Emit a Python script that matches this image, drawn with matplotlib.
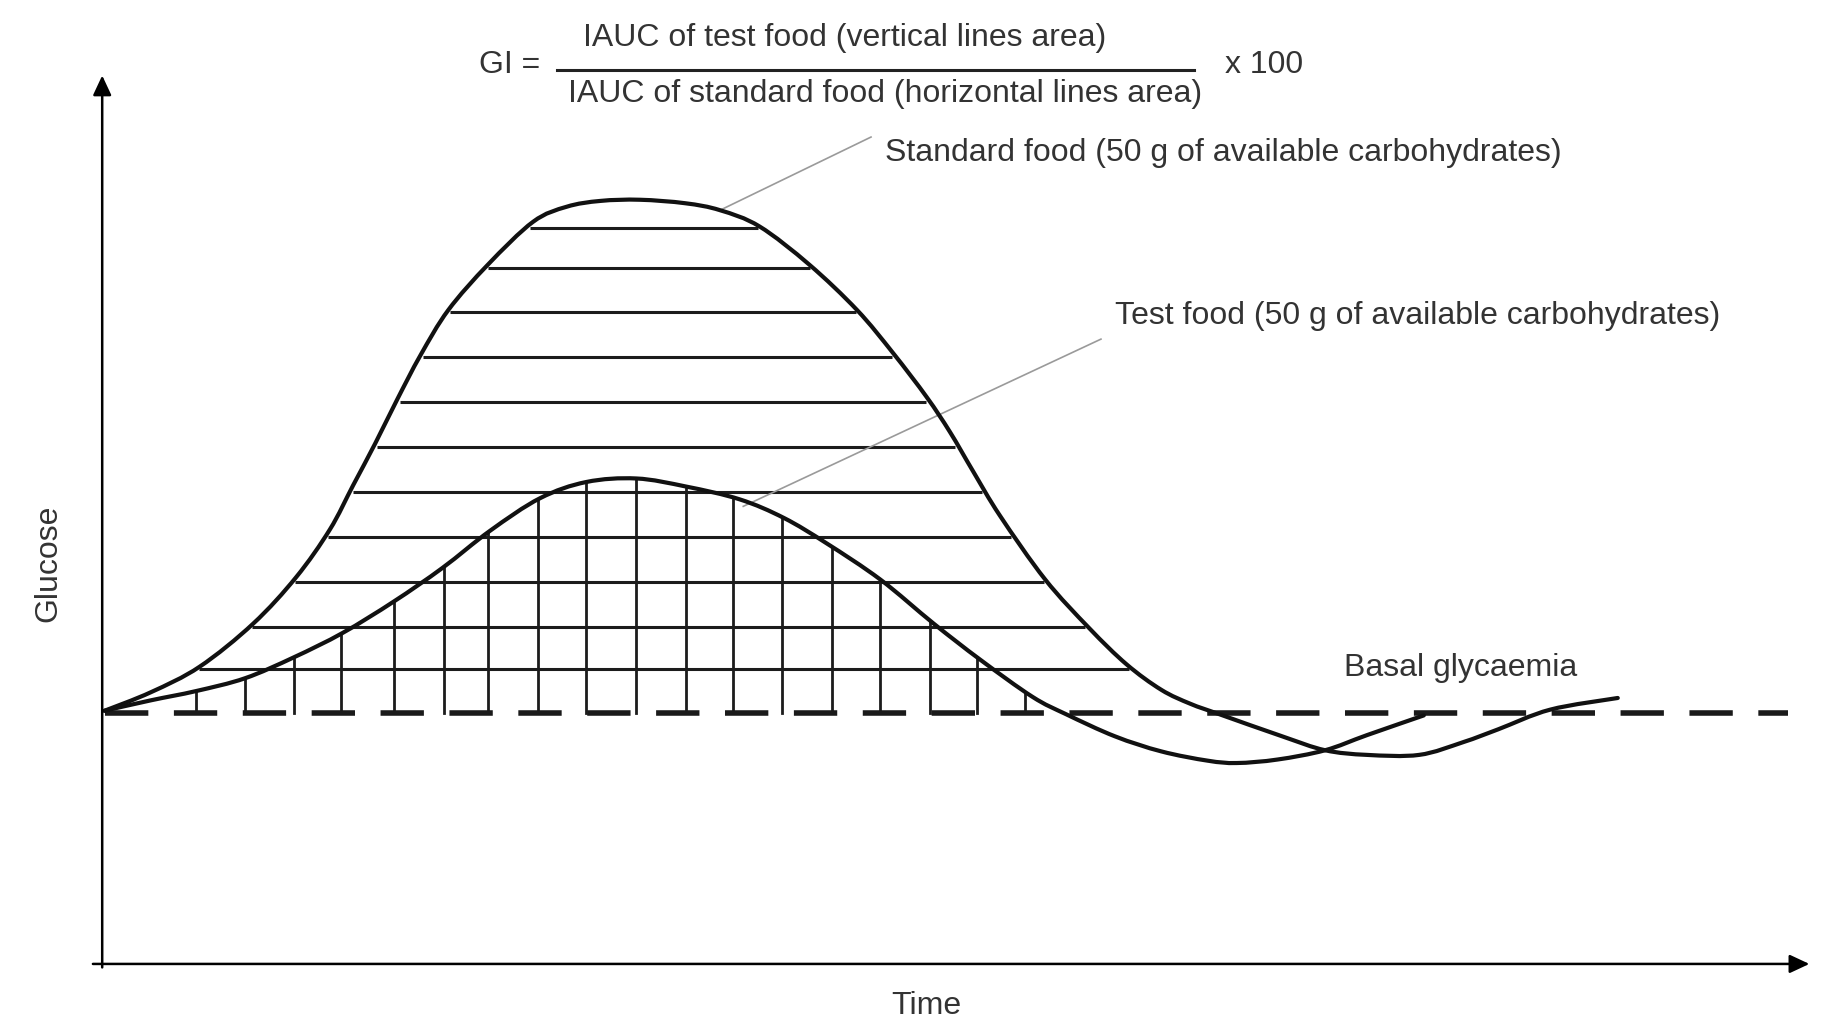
import numpy as np
import matplotlib.pyplot as plt
from matplotlib.patches import FancyArrowPatch, PathPatch
from matplotlib.path import Path

plt.rcParams['font.family'] = ['Liberation Sans', 'DejaVu Sans']

# glycaemic response curves (schematic units: time, glucose)
std_t = [0.2, 4.2, 8.4, 13.0, 16.7, 19.6, 21.6, 23.5, 25.4, 27.4, 29.8, 33.2, 37.1,
         40.0, 42.9, 46.3, 50.2, 53.2, 56.6, 60.9, 65.0, 68.1, 71.0, 73.0, 75.0, 77.3,
         81.2, 85.0, 88.2, 91.2, 93.7, 96.2, 101.6, 105.3, 108.9, 113.4, 117.2,
         120.2, 124.7, 130.5]
std_g = [21.8, 23.4, 25.6, 29.3, 33.3, 37.4, 41.2, 44.8, 48.6, 52.4, 56.3, 60.2, 63.9,
         65.2, 65.7, 65.8, 65.5, 64.9, 63.5, 60.2, 56.3, 52.6, 48.8, 45.8, 42.4, 38.6,
         33.1, 28.9, 25.8, 23.6, 22.4, 21.5, 19.6, 18.4, 18.0, 18.0, 19.1,
         20.2, 21.9, 22.9]

test_t = [0.2, 4.2, 8.1, 12.3, 16.5, 20.7, 25.1, 29.3, 33.4, 37.7, 41.7, 46.0, 50.3,
          54.9, 58.7, 62.4, 67.0, 71.6, 75.6, 80.1, 83.0, 87.2, 91.2, 95.2, 97.7,
          101.2, 105.3, 108.9, 113.8]
test_g = [21.8, 22.7, 23.5, 24.6, 26.4, 28.5, 31.2, 34.1, 37.3, 40.1, 41.5, 41.8, 41.1,
          40.0, 38.4, 36.2, 33.1, 29.3, 26.2, 23.0, 21.5, 19.6, 18.3, 17.5, 17.3,
          17.6, 18.4, 19.7, 21.4]

basal = 21.6
hatch_levels = [63.4, 59.9, 56.1, 52.3, 48.4, 44.5, 40.6, 36.8, 32.9, 29.0, 25.4]
vline_times = [8.1, 12.3, 16.5, 20.6, 25.1, 29.4, 33.2, 37.5, 41.7, 46.0, 50.3, 54.3,
               58.5, 62.8, 67.0, 71.3, 75.3, 79.5]


def smooth_path(xs, ys):
    # Catmull-Rom through the read points, drawn as cubic Bezier segments
    p = np.column_stack([xs, ys]).astype(float)
    verts = [p[0]]
    codes = [Path.MOVETO]
    n = len(p)
    for i in range(n - 1):
        p0 = p[i - 1] if i > 0 else p[i]
        p1, p2 = p[i], p[i + 1]
        p3 = p[i + 2] if i + 2 < n else p[i + 1]
        verts += [p1 + (p2 - p0) / 6, p2 - (p3 - p1) / 6, p2]
        codes += [Path.CURVE4] * 3
    return Path(verts, codes)


fig = plt.figure(figsize=(18.21, 10.22), dpi=100)
ax = fig.add_axes([0, 0, 1, 1])
ax.set_xlim(-8.8, 148.0)
ax.set_ylim(-5.0, 83.0)
ax.axis('off')

ink = '#111111'
txt = '#333333'

# horizontal lines inside the standard food area
st = np.array(std_t)
sg = np.array(std_g)
ipk = int(np.argmax(sg))
iend = int(np.searchsorted(st, 96.2)) + 1
for lev in hatch_levels:
    left = np.interp(lev, sg[:ipk + 1], st[:ipk + 1])
    right = np.interp(lev, sg[ipk:iend][::-1], st[ipk:iend][::-1])
    ax.plot([left + 0.3, right - 0.3], [lev, lev], color='#1c1c1c', lw=2.2,
            solid_capstyle='butt', zorder=1)

# vertical lines inside the test food area
for t in vline_times:
    top = np.interp(t, test_t, test_g)
    ax.plot([t, t], [basal, top], color='#1c1c1c', lw=2.0, zorder=1)

# basal glycaemia
ax.plot([0.2, 145.2], [basal, basal], color='#1a1a1a', lw=4.0,
        dashes=(7.8, 4.6), dash_capstyle='butt', zorder=2)

for xs, ys in [(std_t, std_g), (test_t, test_g)]:
    ax.add_patch(PathPatch(smooth_path(xs, ys), facecolor='none', edgecolor=ink,
                           lw=3.0, joinstyle='round', capstyle='round', zorder=3))

# axes with arrows
for start, end in [((0, -0.3), (0, 76.5)), ((-0.8, 0), (147.0, 0))]:
    ar = FancyArrowPatch(start, end, arrowstyle='-|>,head_length=0.6,head_width=0.28',
                         mutation_scale=20, lw=1.8, color='black',
                         shrinkA=0, shrinkB=0, zorder=4)
    ax.add_patch(ar)

# leader lines
ax.plot([53.2, 66.2], [64.9, 71.2], color='#9a9a9a', lw=1.2, zorder=2)
ax.plot([55.2, 86.0], [39.4, 53.8], color='#9a9a9a', lw=1.2, zorder=2)

fs = 23
ax.text(67.4, 69.8, 'Standard food (50 g of available carbohydrates)', fontsize=fs,
        color=txt, ha='left', va='center')
ax.text(87.2, 55.8, 'Test food (50 g of available carbohydrates)', fontsize=fs,
        color=txt, ha='left', va='center')
ax.text(106.9, 25.5, 'Basal glycaemia', fontsize=fs, color=txt, ha='left', va='center')
ax.text(-4.6, 34.5, 'Glucose', fontsize=fs, color=txt, rotation=90,
        ha='center', va='center')
ax.text(71.0, -3.6, 'Time', fontsize=fs, color=txt, ha='center', va='center')

# GI formula
ax.text(37.7, 77.4, 'GI =', fontsize=fs, color=txt, ha='right', va='center')
ax.text(63.9, 79.7, 'IAUC of test food (vertical lines area)', fontsize=fs,
        color=txt, ha='center', va='center')
ax.plot([39.2, 94.0], [77.0, 77.0], color='#222222', lw=2.2)
ax.text(67.4, 74.9, 'IAUC of standard food (horizontal lines area)', fontsize=fs,
        color=txt, ha='center', va='center')
ax.text(96.7, 77.4, 'x 100', fontsize=fs, color=txt, ha='left', va='center')

fig.savefig('out.png', dpi=100, facecolor='white')
